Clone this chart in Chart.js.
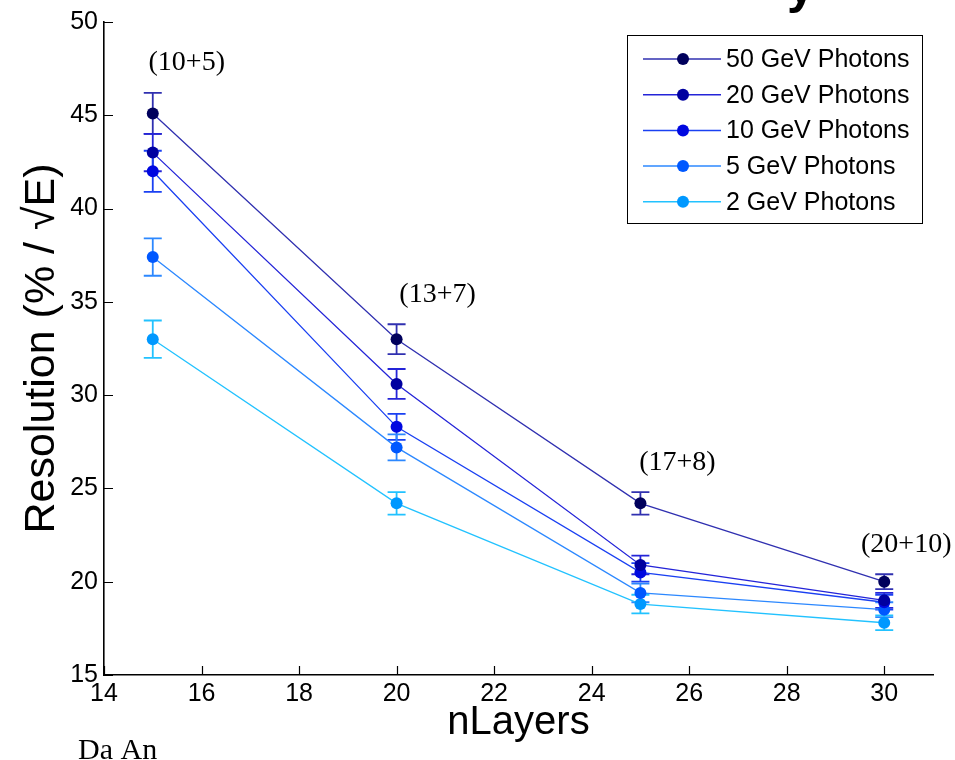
<!DOCTYPE html>
<html><head><meta charset="utf-8">
<script src="https://cdn.jsdelivr.net/npm/chart.js@4.4.1/dist/chart.umd.min.js"></script>
<style>html,body{margin:0;padding:0;background:#fff;}#wrap{width:955px;height:760px;position:relative;}</style>
</head><body><div id="wrap"><canvas id="c" width="955" height="760"></canvas></div>
<script>
// ---- data ----
const nLayers = [15, 20, 25, 30];
const layerConfigs = ['(10+5)', '(13+7)', '(17+8)', '(20+10)'];
const seriesLabels = ['50 GeV Photons', '20 GeV Photons', '10 GeV Photons', '5 GeV Photons', '2 GeV Photons'];
const res50 = [45.1, 33.0, 24.2, 20.0];
const err50 = [1.1, 0.8, 0.6, 0.4];
const res20 = [43.0, 30.6, 20.9, 19.0];
const err20 = [1.0, 0.8, 0.5, 0.4];
const res10 = [42.0, 28.3, 20.5, 18.9];
const err10 = [1.1, 0.7, 0.5, 0.4];
const res5 = [37.4, 27.2, 19.4, 18.5];
const err5 = [1.0, 0.7, 0.5, 0.4];
const res2 = [33.0, 24.2, 18.8, 17.8];
const err2 = [1.0, 0.6, 0.5, 0.4];
const xTicks = [14, 16, 18, 20, 22, 24, 26, 28, 30];
const yTicks = [15, 20, 25, 30, 35, 40, 45, 50];
const footnote = 'Da An';

// ---- styles ----
const seriesValues = [res50, res20, res10, res5, res2];
const seriesErrors = [err50, err20, err10, err5, err2];
const lineColors = ['#3030b0', '#2424d8', '#1a40f2', '#2c88ff', '#22c2ff'];
const markerColors = ['#00005c', '#0000a0', '#0008e0', '#0058ff', '#0098ff'];
const sansFont = "'Liberation Sans', Arial, sans-serif";
const serifFont = "'Liberation Serif', 'Times New Roman', serif";

const datasets = seriesValues.map((vals, i) => ({
  label: seriesLabels[i],
  data: nLayers.map((x, j) => ({x: x, y: vals[j]})),
  errors: seriesErrors[i],
  borderColor: lineColors[i],
  backgroundColor: markerColors[i],
  pointBackgroundColor: markerColors[i],
  pointBorderColor: markerColors[i],
  pointBorderWidth: 0,
  pointRadius: 6,
  pointHoverRadius: 6,
  borderWidth: 1.3,
  tension: 0,
  fill: false
}));

const errorBarPlugin = {
  id: 'errorBars',
  beforeDatasetsDraw(chart) {
    const ctx = chart.ctx, xs = chart.scales.x, ys = chart.scales.y;
    chart.data.datasets.forEach((ds, i) => {
      ctx.save();
      ctx.strokeStyle = ds.borderColor;
      ctx.lineWidth = 1.8;
      ds.data.forEach((p, j) => {
        const e = ds.errors[j];
        const px = xs.getPixelForValue(p.x);
        const yt = ys.getPixelForValue(p.y + e);
        const yb = ys.getPixelForValue(p.y - e);
        ctx.beginPath();
        ctx.moveTo(px, yt); ctx.lineTo(px, yb);
        ctx.moveTo(px - 9, yt); ctx.lineTo(px + 9, yt);
        ctx.moveTo(px - 9, yb); ctx.lineTo(px + 9, yb);
        ctx.stroke();
      });
      ctx.restore();
    });
  }
};

const axisTickPlugin = {
  id: 'inwardTicks',
  afterDatasetsDraw(chart) {
    const ctx = chart.ctx, xs = chart.scales.x, ys = chart.scales.y, a = chart.chartArea;
    ctx.save();
    ctx.strokeStyle = '#000';
    ctx.lineWidth = 1.2;
    ctx.beginPath();
    xTicks.forEach(v => {
      const px = Math.round(xs.getPixelForValue(v)) + 0.5;
      ctx.moveTo(px, a.bottom); ctx.lineTo(px, a.bottom - 9);
    });
    yTicks.forEach(v => {
      const py = Math.round(ys.getPixelForValue(v)) + 0.5;
      ctx.moveTo(a.left, py); ctx.lineTo(a.left + 9, py);
    });
    ctx.stroke();
    ctx.restore();
  }
};

const annotationPlugin = {
  id: 'annotations',
  afterDraw(chart) {
    const ctx = chart.ctx, xs = chart.scales.x, ys = chart.scales.y;
    const dx = [34, 41, 37, 22];
    ctx.save();
    ctx.fillStyle = '#000';
    ctx.font = '28px ' + serifFont;
    ctx.textAlign = 'center';
    ctx.textBaseline = 'middle';
    layerConfigs.forEach((t, i) => {
      const px = xs.getPixelForValue(nLayers[i]) + dx[i];
      const py = ys.getPixelForValue(res50[i] + err50[i]) - 30;
      ctx.fillText(t, px, py);
    });
    // footnote
    ctx.textAlign = 'left';
    ctx.textBaseline = 'alphabetic';
    ctx.font = '30px ' + serifFont;
    ctx.fillText(footnote, 78, 759);
    // clipped title descender at top
    ctx.font = 'bold 50px ' + sansFont;
    ctx.textAlign = 'center';
    ctx.fillText('y', 801, 3);
    ctx.restore();
  }
};

const legendPlugin = {
  id: 'customLegend',
  afterDraw(chart) {
    const ctx = chart.ctx;
    const bx = 627.5, by = 35.5, bw = 295, bh = 188;
    ctx.save();
    ctx.fillStyle = '#fff';
    ctx.fillRect(bx, by, bw, bh);
    ctx.strokeStyle = '#000';
    ctx.lineWidth = 1;
    ctx.strokeRect(bx, by, bw, bh);
    ctx.font = '25px ' + sansFont;
    ctx.textBaseline = 'middle';
    ctx.textAlign = 'left';
    chart.data.datasets.forEach((ds, i) => {
      const y = 59 + i * 35.7;
      ctx.strokeStyle = ds.borderColor;
      ctx.lineWidth = 1.5;
      ctx.beginPath(); ctx.moveTo(643, y); ctx.lineTo(721, y); ctx.stroke();
      ctx.fillStyle = ds.pointBackgroundColor;
      ctx.beginPath(); ctx.arc(683, y, 6, 0, Math.PI * 2); ctx.fill();
      ctx.fillStyle = '#000';
      ctx.fillText(ds.label, 726, y + 1);
    });
    ctx.restore();
  }
};

new Chart(document.getElementById('c'), {
  type: 'line',
  data: {datasets: datasets},
  options: {
    responsive: false,
    animation: false,
    devicePixelRatio: 1,
    layout: {padding: {top: 22, right: 22, left: 0, bottom: 0}},
    plugins: {legend: {display: false}, tooltip: {enabled: false}, title: {display: false}},
    scales: {
      x: {
        type: 'linear', min: 14, max: 31,
        afterBuildTicks: s => { s.ticks = xTicks.map(v => ({value: v})); },
        afterFit: s => { s.height = 85; },
        grid: {display: false, drawTicks: false},
        border: {display: true, color: '#000', width: 1.6},
        ticks: {color: '#000', padding: 4, maxRotation: 0, autoSkip: false, font: {family: sansFont, size: 25}},
        title: {display: true, text: 'nLayers', color: '#000', font: {family: sansFont, size: 40}, padding: {top: 0, bottom: 13}}
      },
      y: {
        type: 'linear', min: 15, max: 50,
        afterBuildTicks: s => { s.ticks = yTicks.map(v => ({value: v})); },
        afterFit: s => { s.width = 104; },
        grid: {display: false, drawTicks: false},
        border: {display: true, color: '#000', width: 1.6},
        ticks: {color: '#000', padding: 6, autoSkip: false, font: {family: sansFont, size: 25}},
        title: {display: true, text: 'Resolution (% / \u221AE)', color: '#000', font: {family: sansFont, size: 43}, padding: {top: 16, bottom: 0}}
      }
    }
  },
  plugins: [errorBarPlugin, axisTickPlugin, annotationPlugin, legendPlugin]
});
</script>
</body></html>
